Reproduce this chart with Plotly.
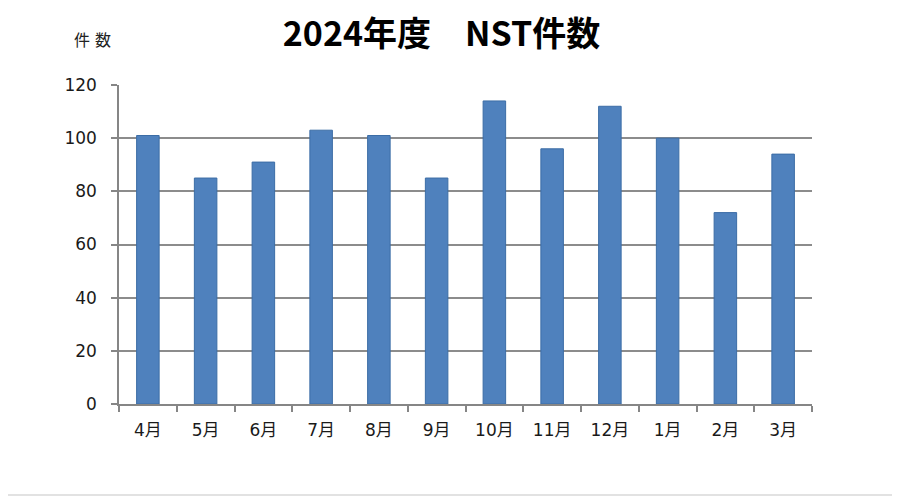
import plotly.graph_objects as go

# 月別 NST件数（2024年度）
months = ["4月", "5月", "6月", "7月", "8月", "9月", "10月", "11月", "12月", "1月", "2月", "3月"]
counts = [101, 85, 91, 103, 101, 85, 114, 96, 112, 100, 72, 94]
y_ticks = [0, 20, 40, 60, 80, 100, 120]

FONT = "DejaVu Sans, Noto Sans CJK JP"
TITLE_FONT = "Noto Sans CJK JP"
# the page body has an 8px margin, so the figure is shrunk by that much
OFF = 8
W, H = 900 - OFF, 496 - OFF
L, R, T, B = 119 - OFF, 88, 85 - OFF, 92
pw, ph = W - L - R, H - T - B

fig = go.Figure(data=[
    go.Bar(x=months, y=counts,
           marker=dict(color="#4F81BD", line=dict(color="#3C6DA6", width=1)),
           showlegend=False)
])

fig.update_layout(
    width=W, height=H,
    margin=dict(l=L, r=R, t=T, b=B),
    paper_bgcolor="white", plot_bgcolor="white",
    bargap=0.61,
    font=dict(family=FONT, color="#222222"),
    title=dict(text="<b>2024年度　NST件数</b>", x=(441.5 - OFF) / W, xanchor="center",
               y=1 - (34 - OFF) / H, yanchor="middle",
               font=dict(family=TITLE_FONT, size=34, color="black")),
)

fig.update_xaxes(
    type="category",
    showline=True, linecolor="#868686", linewidth=1.5,
    ticks="outside", tickson="boundaries", ticklen=6, tickcolor="#868686", tickwidth=1.5,
    showgrid=False,
    tickfont=dict(family=FONT, size=17, color="#1A1A1A"),
    ticklabelstandoff=10,
)
fig.update_yaxes(
    range=[0, 120], tickvals=y_ticks,
    showline=True, linecolor="#868686", linewidth=1.5,
    ticks="outside", ticklen=6, tickcolor="#868686", tickwidth=1.5,
    showgrid=True, gridcolor="#8C8C8C", gridwidth=1.5,
    zeroline=False,
    tickfont=dict(family=FONT, size=17, color="#1A1A1A"),
    ticklabelstandoff=11,
)

fig.add_annotation(text="件 数", xref="paper", yref="paper",
                   x=(92 - OFF - L) / pw, y=(H - B - (40 - OFF)) / ph,
                   showarrow=False, xanchor="center", yanchor="middle",
                   font=dict(family=FONT, size=16, color="#222222"))

# outer frame (right and bottom edges; top/left fall in the page margin)
fx1 = (W - 1 - L) / pw
fy0 = (H - B - (H - 1)) / ph
fig.add_shape(type="line", xref="paper", yref="paper",
              x0=fx1, x1=fx1, y0=fy0, y1=(H - B) / ph,
              line=dict(color="#D9D9D9", width=1.5))
fig.add_shape(type="line", xref="paper", yref="paper",
              x0=-L / pw, x1=fx1, y0=fy0, y1=fy0,
              line=dict(color="#D9D9D9", width=1.5))

fig.write_html("out.html")
